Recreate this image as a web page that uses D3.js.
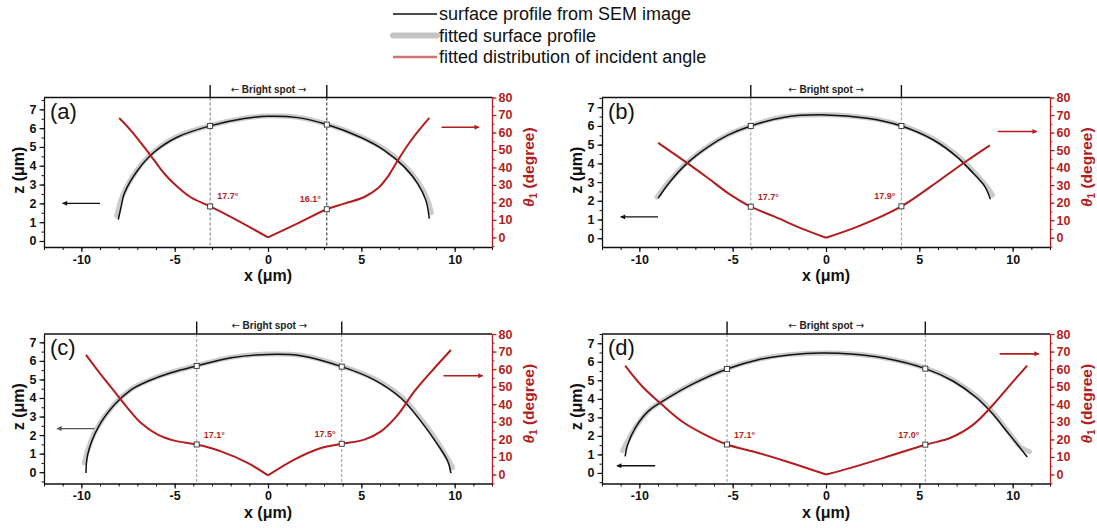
<!DOCTYPE html>
<html>
<head>
<meta charset="utf-8">
<script src="https://cdn.jsdelivr.net/npm/d3@7"></script>
<style>
  html, body { margin: 0; padding: 0; background: #fff; }
  svg { display: block; font-family: "Liberation Sans", Arial, sans-serif; }
</style>
</head>
<body>
<svg id="chart" width="1097" height="528"></svg>
<script>
// ---- data -----------------------------------------------------------
const panelLabels = ["(a)", "(b)", "(c)", "(d)"];

// measured surface profiles [x (µm), z (µm)]
const profileA = [[-8.02,1.14],[-7.87,1.81],[-7.7,2.52],[-6.98,3.76],[-6.09,4.73],[-4.84,5.53],[-3.1,6.12],[-1.27,6.51],[0,6.63],[1.59,6.56],[3.15,6.19],[4.98,5.5],[6.23,4.82],[7.3,3.94],[8.02,3.05],[8.46,2.16],[8.64,1.19]];
const profileB = [[-8.99,2.14],[-8.42,2.94],[-7.45,4.0],[-6.29,4.9],[-5.23,5.52],[-4.03,6.0],[-2.22,6.47],[0,6.59],[2.22,6.41],[4.04,6.0],[5.76,5.25],[7.0,4.36],[7.89,3.47],[8.51,2.76],[8.81,2.08]];
const profileC = [[-9.75,-0.05],[-9.66,0.95],[-9.12,2.38],[-8.23,3.63],[-7.34,4.44],[-6.44,4.9],[-5.2,5.36],[-3.82,5.73],[-1.98,6.17],[0,6.35],[1.77,6.28],[3.95,5.69],[5.69,4.98],[7.12,4.0],[8.2,2.74],[9.09,1.49],[9.63,0.59],[9.8,-0.05]];
const profileD = [[-10.76,0.89],[-10.64,1.48],[-10.2,2.46],[-9.5,3.35],[-8.44,4.06],[-7.18,4.78],[-5.3,5.61],[-3.63,6.11],[-1.86,6.38],[-0.27,6.47],[1.33,6.42],[3.1,6.2],[5.32,5.63],[6.82,4.95],[8.07,4.06],[8.95,3.17],[9.66,2.28],[10.37,1.39],[10.78,0.86]];

// fitted surface profiles [x, z]
const fitA = [[-8.1,1.35],[-7.8,2.4],[-7.05,3.72],[-6.15,4.72],[-4.9,5.54],[-3.1,6.14],[-1.27,6.53],[0,6.64],[1.59,6.58],[3.15,6.21],[4.98,5.54],[6.25,4.87],[7.33,4.0],[8.07,3.1],[8.55,2.2],[8.75,1.5]];
const fitB = [[-9.05,2.2],[-8.45,2.98],[-7.47,4.03],[-6.3,4.93],[-5.23,5.54],[-4.03,6.02],[-2.22,6.49],[0,6.6],[2.22,6.43],[4.04,6.03],[5.78,5.29],[7.04,4.42],[7.95,3.52],[8.6,2.78],[8.92,2.3]];
const fitC = [[-9.84,0.5],[-9.62,1.3],[-9.17,2.35],[-8.28,3.62],[-7.38,4.44],[-6.46,4.92],[-5.2,5.38],[-3.82,5.75],[-1.98,6.19],[0,6.37],[1.77,6.3],[3.95,5.72],[5.72,5.02],[7.16,4.05],[8.25,2.8],[9.15,1.52],[9.7,0.6],[9.89,0.24]];
const fitD = [[-10.9,1.2],[-10.62,1.75],[-10.15,2.55],[-9.45,3.4],[-8.42,4.1],[-7.16,4.82],[-5.3,5.63],[-3.62,6.13],[-1.86,6.4],[0,6.48],[1.33,6.44],[3.1,6.22],[5.32,5.66],[6.84,4.99],[8.1,4.1],[9.0,3.2],[9.72,2.28],[10.45,1.38],[10.9,1.15]];

// fitted incident-angle distributions [x, θ1 (degree)], split at the apex
const angleA = [
  [[-7.97,68.3],[-7.34,61.1],[-6.63,51.6],[-6.09,44.0],[-5.55,36.4],[-4.84,28.8],[-4.12,22.8],[-3.1,17.7],[-1.62,9.6],[0,0]],
  [[0,0],[1.59,8.0],[3.15,16.1],[4.09,19.3],[5.16,23.1],[5.87,27.9],[6.4,34.5],[6.95,44.0],[7.66,55.4],[8.64,68.3]]
];
const angleB = [
  [[-8.99,54.1],[-7.45,42.7],[-6.29,33.8],[-5.23,25.3],[-4.03,17.7],[-2.75,12.0],[-1.33,5.3],[0,0]],
  [[0,0],[1.69,6.3],[4.04,17.9],[5.59,29.0],[7.45,43.2],[8.78,52.7]]
];
const angleC = [
  [[-9.75,68.1],[-8.94,56.7],[-8.23,47.3],[-7.52,37.8],[-6.8,29.3],[-5.91,22.7],[-5.02,19.3],[-3.82,17.1],[-2.52,13.2],[-1.09,6.6],[0,-0.5]],
  [[0,-0.5],[1.41,8.5],[2.84,15.1],[3.95,17.5],[5.16,19.9],[6.05,24.6],[6.95,34.0],[7.84,47.3],[8.91,60.5],[9.8,70.9]]
];
const angleD = [
  [[-10.76,62.0],[-9.84,50.1],[-8.78,39.7],[-7.71,30.2],[-6.65,23.6],[-5.3,17.1],[-3.63,12.3],[-1.86,6.6],[0,0]],
  [[0,0],[1.33,3.8],[3.1,9.5],[5.32,17.0],[6.65,20.8],[7.89,28.4],[8.95,39.7],[10.02,52.9],[10.78,62.0]]
];

// bright-spot edges: x positions, profile height there, incident angle there
const spotX     = [[-3.1, 3.15], [-4.03, 4.04], [-3.82, 3.95], [-5.3, 5.32]];
const spotZ     = [[6.12, 6.19], [6.0, 6.0], [5.73, 5.69], [5.61, 5.63]];
const spotAngle = [[17.7, 16.1], [17.7, 17.9], [17.1, 17.5], [17.1, 17.0]];

// axis arrows: [x from, x to, value]
const leftArrows  = [[-9.0,-11.0,2.0], [-9.0,-11.0,1.14], [-9.3,-11.3,2.35], [-9.15,-11.2,0.39]];
const rightArrows = [[9.3,11.3,63], [9.2,11.3,60.6], [9.4,11.5,56.2], [9.3,11.4,68.7]];

// tick values
const xTicks = [-10, -5, 0, 5, 10];
const zTicks = [0, 1, 2, 3, 4, 5, 6, 7];
const thetaTicks = [0, 10, 20, 30, 40, 50, 60, 70, 80];

// axis domains per panel
const xDomain = [-12, 12];
const zDomains = [[-0.32,7.63], [-0.47,7.52], [-0.61,7.45], [-0.57,7.5]];
const thetaDomains = [[-5.5,80], [-5.3,80], [-5.1,80], [-5.1,80]];

const profiles = [profileA, profileB, profileC, profileD];
const fits = [fitA, fitB, fitC, fitD];
const angles = [angleA, angleB, angleC, angleD];

// ---- layout & style ---------------------------------------------------
const frames = [{l:44, t:97.5}, {l:602, t:97.5}, {l:44, t:334}, {l:602, t:334}];
const W = 448, H = 149.5;
const RED = "#b21d1d";
const GREY_FIT = "#cbcbcb";
const spotLineColors = [["#777","#222"], ["#999","#999"], ["#999","#999"], ["#999","#999"]];

const svg = d3.select("#chart");

const defs = svg.append("defs");
function arrowMarker(id, color) {
  defs.append("marker").attr("id", id)
    .attr("viewBox", "0 0 10 10").attr("refX", 9).attr("refY", 5)
    .attr("markerWidth", 6).attr("markerHeight", 5).attr("orient", "auto")
    .attr("markerUnits", "userSpaceOnUse")
    .append("path").attr("d", "M0,0 L10,5 L0,10 Z").attr("fill", color);
}
arrowMarker("headBlack", "#111");
arrowMarker("headGrey", "#555");
arrowMarker("headRed", RED);

// ---- legend -----------------------------------------------------------
const legendItems = [
  {label: "surface profile from SEM image", color: "#111", w: 1.6},
  {label: "fitted surface profile", color: "#c4c4c4", w: 6},
  {label: "fitted distribution of incident angle", color: "#d27474", w: 2.5}
];
const legend = svg.append("g").attr("transform", "translate(393,14)");
legendItems.forEach((it, k) => {
  const y = k * 21.5;
  legend.append("line").attr("x1", 0).attr("x2", 44).attr("y1", y).attr("y2", y)
    .attr("stroke", it.color).attr("stroke-width", it.w).attr("stroke-linecap", it.w > 3 ? "round" : "butt");
  legend.append("text").attr("x", 46).attr("y", y + 6)
    .attr("font-size", 18).attr("fill", "#111").text(it.label);
});

// ---- panels -----------------------------------------------------------
const curve = d3.curveCatmullRom.alpha(0.5);

function drawPanel(i) {
  const f = frames[i];
  const g = svg.append("g").attr("transform", `translate(${f.l},${f.t})`);
  const x = d3.scaleLinear().domain(xDomain).range([0, W]);
  const z = d3.scaleLinear().domain(zDomains[i]).range([H, 0]);
  const th = d3.scaleLinear().domain(thetaDomains[i]).range([H, 0]);

  const lineZ = d3.line().x(d => x(d[0])).y(d => z(d[1])).curve(curve);
  const lineT = d3.line().x(d => x(d[0])).y(d => th(d[1])).curve(curve);

  // dashed bright-spot guides
  spotX[i].forEach((sx, k) => {
    g.append("line").attr("x1", x(sx)).attr("x2", x(sx)).attr("y1", 0).attr("y2", H)
      .attr("stroke", spotLineColors[i][k]).attr("stroke-width", 1)
      .attr("stroke-dasharray", "3,2");
    // tick above the frame
    g.append("line").attr("x1", x(sx)).attr("x2", x(sx)).attr("y1", -12.5).attr("y2", 0)
      .attr("stroke", "#111").attr("stroke-width", 1.4);
  });
  const spotLabel = g.append("text")
    .attr("x", (x(spotX[i][0]) + x(spotX[i][1])) / 2).attr("y", -5)
    .attr("text-anchor", "middle").attr("font-size", 10).attr("font-weight", "bold")
    .attr("fill", "#222");
  spotLabel.append("tspan").attr("font-family", "DejaVu Sans").attr("font-weight", "normal").text("\u2190");
  spotLabel.append("tspan").text(" Bright spot ");
  spotLabel.append("tspan").attr("font-family", "DejaVu Sans").attr("font-weight", "normal").text("\u2192");

  // fitted profile (thick grey) then measured profile
  g.append("path").datum(fits[i]).attr("d", lineZ)
    .attr("fill", "none").attr("stroke", GREY_FIT).attr("stroke-width", 5)
    .attr("stroke-linecap", "round").attr("stroke-linejoin", "round");
  g.append("path").datum(profiles[i]).attr("d", lineZ)
    .attr("fill", "none").attr("stroke", "#111").attr("stroke-width", 1.5);

  // incident-angle distribution
  angles[i].forEach(branch => {
    g.append("path").datum(branch).attr("d", lineT)
      .attr("fill", "none").attr("stroke", RED).attr("stroke-width", 2);
  });

  // markers and angle labels at the bright-spot edges
  spotX[i].forEach((sx, k) => {
    [[sx, z(spotZ[i][k])], [sx, th(spotAngle[i][k])]].forEach(p => {
      g.append("rect").attr("x", x(p[0]) - 2.5).attr("y", p[1] - 2.5)
        .attr("width", 5).attr("height", 5)
        .attr("fill", "#fff").attr("stroke", "#333").attr("stroke-width", 0.9);
    });
    g.append("text")
      .attr("x", x(sx) + (k === 0 ? 7 : -6))
      .attr("y", th(spotAngle[i][k]) - 7)
      .attr("text-anchor", k === 0 ? "start" : "end")
      .attr("font-size", 9).attr("font-weight", "bold").attr("fill", RED)
      .text(spotAngle[i][k].toFixed(1) + "\u00b0");
  });

  // direction arrows
  const la = leftArrows[i];
  g.append("line").attr("x1", x(la[0])).attr("x2", x(la[1])).attr("y1", z(la[2])).attr("y2", z(la[2]))
    .attr("stroke", i === 2 ? "#555" : "#111").attr("stroke-width", 1.4)
    .attr("marker-end", i === 2 ? "url(#headGrey)" : "url(#headBlack)");
  const ra = rightArrows[i];
  g.append("line").attr("x1", x(ra[0])).attr("x2", x(ra[1])).attr("y1", th(ra[2])).attr("y2", th(ra[2]))
    .attr("stroke", RED).attr("stroke-width", 1.6).attr("marker-end", "url(#headRed)");

  // frame top
  g.append("line").attr("x1", 0).attr("x2", W).attr("y1", 0).attr("y2", 0)
    .attr("stroke", "#111").attr("stroke-width", 1.3);

  // bottom axis: minor then major
  g.append("g").attr("transform", `translate(0,${H})`)
    .call(d3.axisBottom(x).tickValues(d3.range(-12, 13, 1)).tickSize(3).tickSizeOuter(0).tickFormat(""))
    .call(a => a.select(".domain").attr("stroke", "#111").attr("stroke-width", 1.3))
    .call(a => a.selectAll(".tick line").attr("stroke", "#111"));
  g.append("g").attr("transform", `translate(0,${H})`)
    .call(d3.axisBottom(x).tickValues(xTicks).tickSize(5).tickSizeOuter(0).tickPadding(3).tickFormat(d => String(d)))
    .call(a => a.select(".domain").remove())
    .call(a => a.selectAll(".tick line").attr("stroke", "#111").attr("stroke-width", 1.2))
    .call(a => a.selectAll("text").attr("font-size", 12.5).attr("font-weight", "bold")
      .attr("fill", "#111").attr("font-family", "Liberation Sans, Arial, sans-serif"));

  // left axis
  const zMinor = d3.range(-0.5, 7.51, 0.5).filter(v => v >= zDomains[i][0] && v <= zDomains[i][1]);
  g.append("g")
    .call(d3.axisLeft(z).tickValues(zMinor).tickSize(2.5).tickSizeOuter(0).tickFormat(""))
    .call(a => a.select(".domain").attr("stroke", "#111").attr("stroke-width", 1.3))
    .call(a => a.selectAll(".tick line").attr("stroke", "#111"));
  g.append("g")
    .call(d3.axisLeft(z).tickValues(zTicks).tickSize(4.5).tickSizeOuter(0).tickPadding(3).tickFormat(d => String(d)))
    .call(a => a.select(".domain").remove())
    .call(a => a.selectAll(".tick line").attr("stroke", "#111").attr("stroke-width", 1.2))
    .call(a => a.selectAll("text").attr("font-size", 12.5).attr("font-weight", "bold")
      .attr("fill", "#111").attr("font-family", "Liberation Sans, Arial, sans-serif"));

  // right axis (red)
  const tMinor = d3.range(-5, 81, 5).filter(v => v >= thetaDomains[i][0]);
  g.append("g").attr("transform", `translate(${W},0)`)
    .call(d3.axisRight(th).tickValues(tMinor).tickSize(2.5).tickSizeOuter(0).tickFormat(""))
    .call(a => a.select(".domain").attr("stroke", RED).attr("stroke-width", 1.3))
    .call(a => a.selectAll(".tick line").attr("stroke", RED));
  g.append("g").attr("transform", `translate(${W},0)`)
    .call(d3.axisRight(th).tickValues(thetaTicks).tickSize(4.5).tickSizeOuter(0).tickPadding(2).tickFormat(d => String(d)))
    .call(a => a.select(".domain").remove())
    .call(a => a.selectAll(".tick line").attr("stroke", RED).attr("stroke-width", 1.2))
    .call(a => a.selectAll("text").attr("font-size", 12.5).attr("font-weight", "bold")
      .attr("fill", RED).attr("font-family", "Liberation Sans, Arial, sans-serif"));

  // axis titles
  g.append("text").attr("x", W / 2).attr("y", H + 34)
    .attr("text-anchor", "middle").attr("font-size", 16).attr("font-weight", "bold")
    .attr("fill", "#111").text("x (\u03bcm)");
  g.append("text").attr("transform", `translate(-20,${H / 2 - 2}) rotate(-90)`)
    .attr("text-anchor", "middle").attr("font-size", 16).attr("font-weight", "bold")
    .attr("fill", "#111").text("z (\u03bcm)");
  const tt = g.append("text").attr("transform", `translate(${W + 41.5},${H / 2 - 5}) rotate(-90)`)
    .attr("text-anchor", "middle").attr("font-size", 15.5).attr("font-weight", "bold")
    .attr("fill", RED);
  tt.append("tspan").attr("font-style", "italic").text("\u03b8");
  tt.append("tspan").attr("font-size", 10).attr("dy", 3.5).text("1");
  tt.append("tspan").attr("dy", -3.5).text(" (degree)");

  // panel tag
  g.append("text").attr("x", 6).attr("y", 21)
    .attr("font-size", 22).attr("fill", "#111").text(panelLabels[i]);
}

[0, 1, 2, 3].forEach(drawPanel);
</script>
</body>
</html>
